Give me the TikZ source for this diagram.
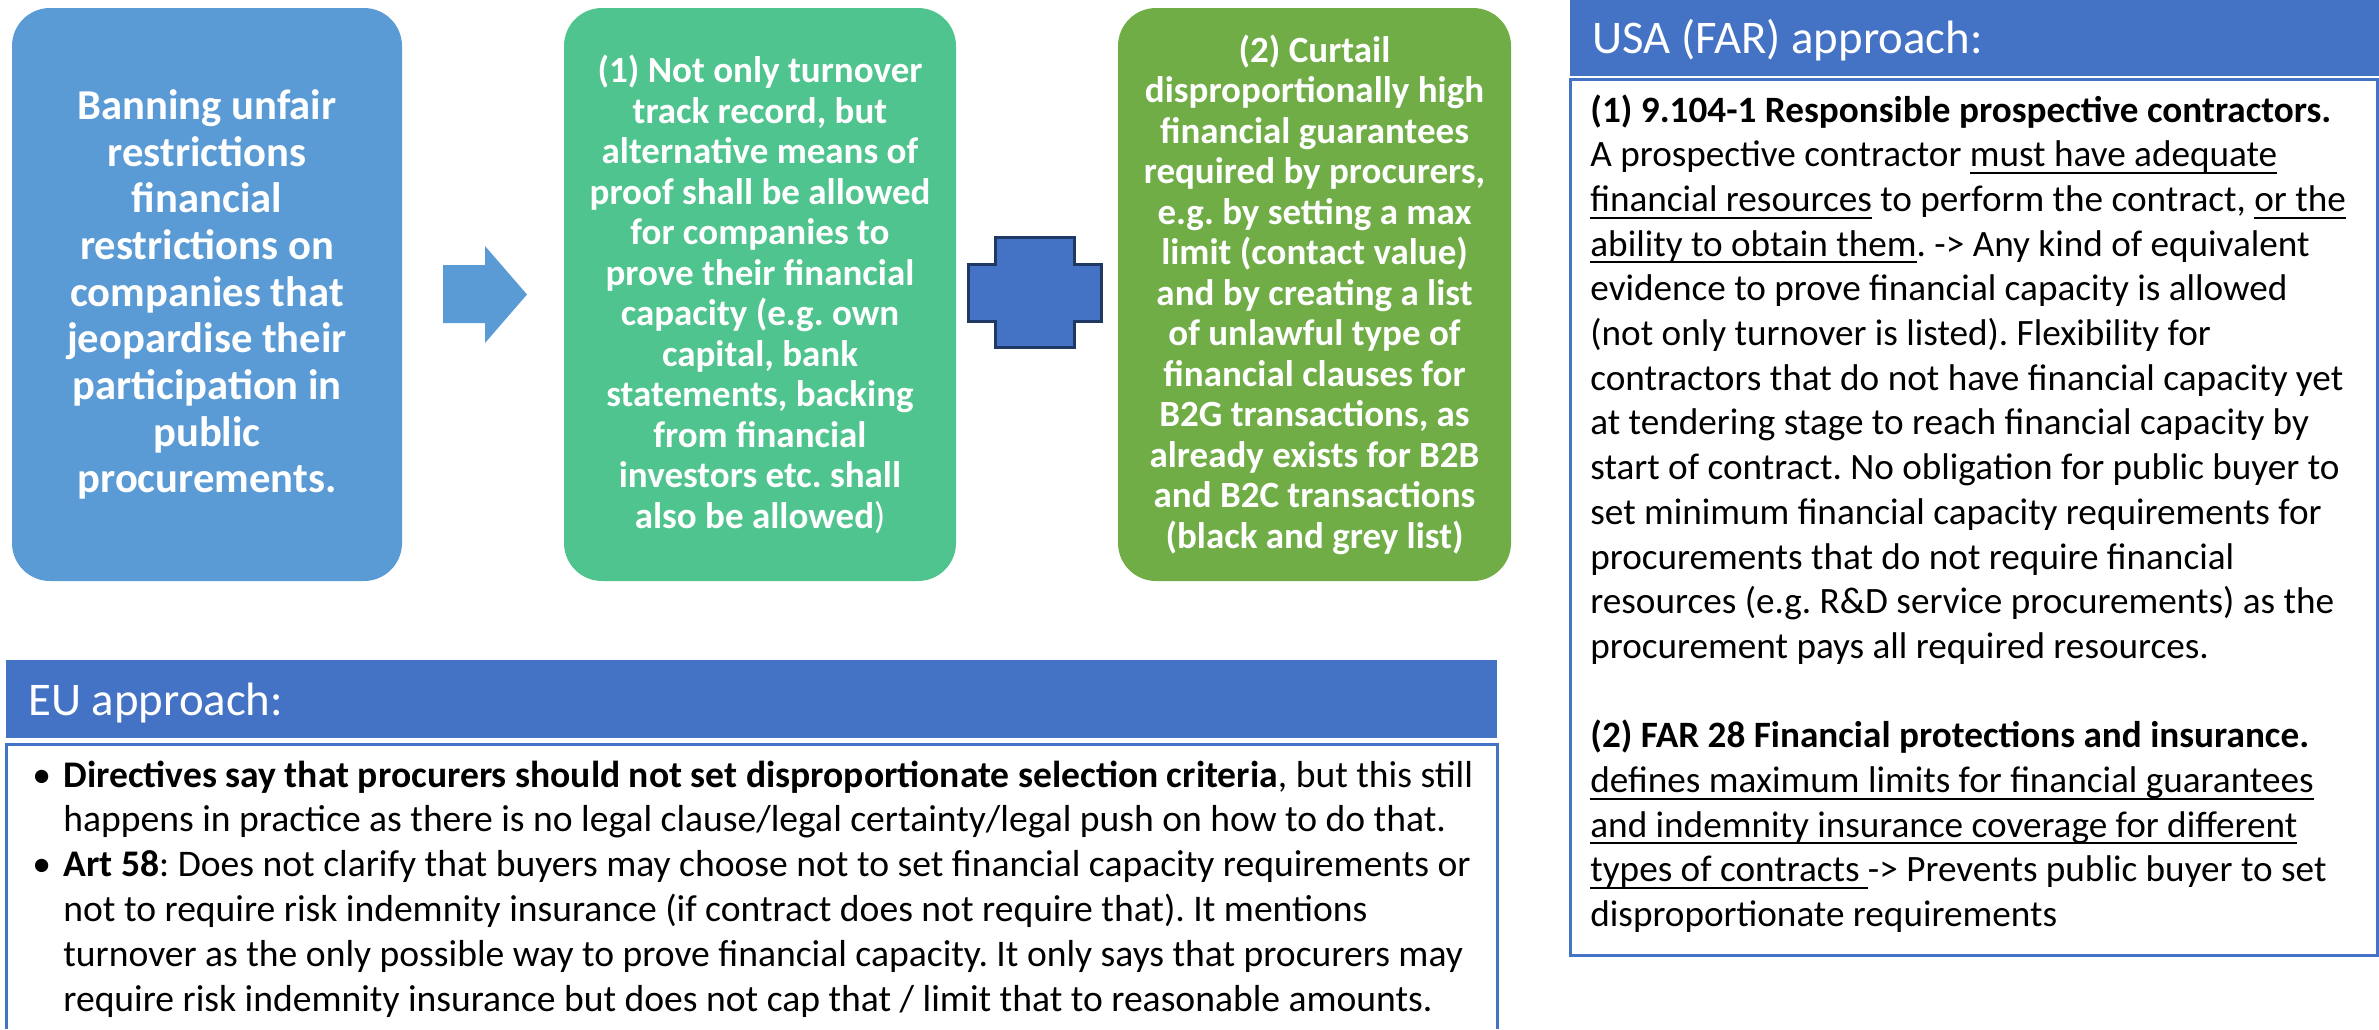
\documentclass[tikz,border=0pt]{standalone}
\usepackage{fontspec}
\setmainfont{Carlito}
\frenchspacing
\newcommand{\myul}[1]{\leavevmode\setbox0\hbox{#1}\rlap{\rule[-3.6pt]{\wd0}{1pt}}\box0\relax}
\newcommand{\mybul}{\leavevmode\llap{\makebox[15.5pt][l]{•}}}
\definecolor{boxblue}{HTML}{5B9BD5}
\definecolor{boxgreen}{HTML}{4FC48E}
\definecolor{boxolive}{HTML}{70AD47}
\definecolor{hdrblue}{HTML}{4472C4}
\definecolor{navy}{HTML}{1F3864}
\begin{document}
\begin{tikzpicture}[x=0.5pt,y=-0.5pt,
  bigbox/.style={rounded corners=19pt, minimum height=286.5pt, inner sep=0pt, text=white, align=center},
  hdrfill/.style={fill=hdrblue},
  hdrtext/.style={anchor=base west, inner sep=0pt, text=white, font=\fontsize{23.4pt}{28pt}\selectfont},
  bodyline/.style={draw=hdrblue, line width=1.5pt},
  bodytext/.style={anchor=base west, inner sep=0pt}]
\useasboundingbox (0,0) rectangle (2379,1029);

% top boxes
\node[bigbox, fill=boxblue, minimum width=195pt, font=\fontsize{21.3pt}{23.35pt}\selectfont\bfseries] (b1) at (207,294.5)
 {Banning unfair\\restrictions\\financial\\restrictions on\\companies that\\jeopardise their\\participation in\\public\\procurements.};
\node[bigbox, fill=boxgreen, minimum width=196pt, font=\fontsize{18.5pt}{20.25pt}\selectfont\bfseries] (b2) at (760,294.5)
 {(1) Not only turnover\\track record, but\\alternative means of\\proof shall be allowed\\for companies to\\prove their financial\\capacity (e.g. own\\capital, bank\\statements, backing\\from financial\\investors etc. shall\\also be allowed{\mdseries)}};
\node[bigbox, fill=boxolive, minimum width=196.5pt, font=\fontsize{18.5pt}{20.25pt}\selectfont\bfseries] (b3) at (1314.5,294.5)
 {(2) Curtail\\disproportionally high\\financial guarantees\\required by procurers,\\e.g. by setting a max\\limit (contact value)\\and by creating a list\\of unlawful type of\\financial clauses for\\B2G transactions, as\\already exists for B2B\\and B2C transactions\\(black and grey list)};

% block arrow
\fill[boxblue] (443,265) -- (485,265) -- (485,246) -- (527,294.5) -- (485,343) -- (485,323) -- (443,323) -- cycle;
% plus sign
\filldraw[fill=hdrblue, draw=navy, line width=1.5pt] (968,264) -- (995,264) -- (995,237) -- (1074,237) -- (1074,264) -- (1101,264) -- (1101,321) -- (1074,321) -- (1074,347) -- (995,347) -- (995,321) -- (968,321) -- cycle;

% USA panel
\fill[hdrfill] (1570,0) rectangle (2379,76);
\node[hdrtext] (usahdr) at (1592,53) {USA (FAR) approach:};
\draw[bodyline] (1570,79) rectangle (2377,955);
\node[bodytext] (usabody) at (1590,122) {\parbox[t]{390pt}{\raggedright\fontsize{18.6pt}{22.35pt}\selectfont
\textbf{(1) 9.104-1 Responsible prospective contractors.}\\
A prospective contractor \myul{must have adequate}\\
\myul{financial resources} to perform the contract, \myul{or the}\\
\myul{ability to obtain them}. -> Any kind of equivalent\\
evidence to prove financial capacity is allowed\\
(not only turnover is listed). Flexibility for\\
contractors that do not have financial capacity yet\\
at tendering stage to reach financial capacity by\\
start of contract. No obligation for public buyer to\\
set minimum financial capacity requirements for\\
procurements that do not require financial\\
resources (e.g. R\&D service procurements) as the\\
procurement pays all required resources.\\
\mbox{}\\
\textbf{(2) FAR 28 Financial protections and insurance.}\\
\myul{defines maximum limits for financial guarantees}\\
\myul{and indemnity insurance coverage for different}\\
\myul{types of contracts\ }-> Prevents public buyer to set\\
disproportionate requirements}};

% EU panel
\fill[hdrfill] (6,660) rectangle (1497,738);
\node[hdrtext] (euhdr) at (28,715) {EU approach:};
\draw[bodyline] (6,1029) -- (6,744) -- (1497,744) -- (1497,1029);
\node[bodytext] (eubody) at (63,787) {\parbox[t]{720pt}{\raggedright\fontsize{18.8pt}{22.4pt}\selectfont
\mybul\textbf{Directives say that procurers should not set disproportionate selection criteria}, but this still\\
happens in practice as there is no legal clause/legal certainty/legal push on how to do that.\\
\mybul\textbf{Art 58}: Does not clarify that buyers may choose not to set financial capacity requirements or\\
not to require risk indemnity insurance (if contract does not require that). It mentions\\
turnover as the only possible way to prove financial capacity. It only says that procurers may\\
require risk indemnity insurance but does not cap that / limit that to reasonable amounts.}};
\end{tikzpicture}
\end{document}
